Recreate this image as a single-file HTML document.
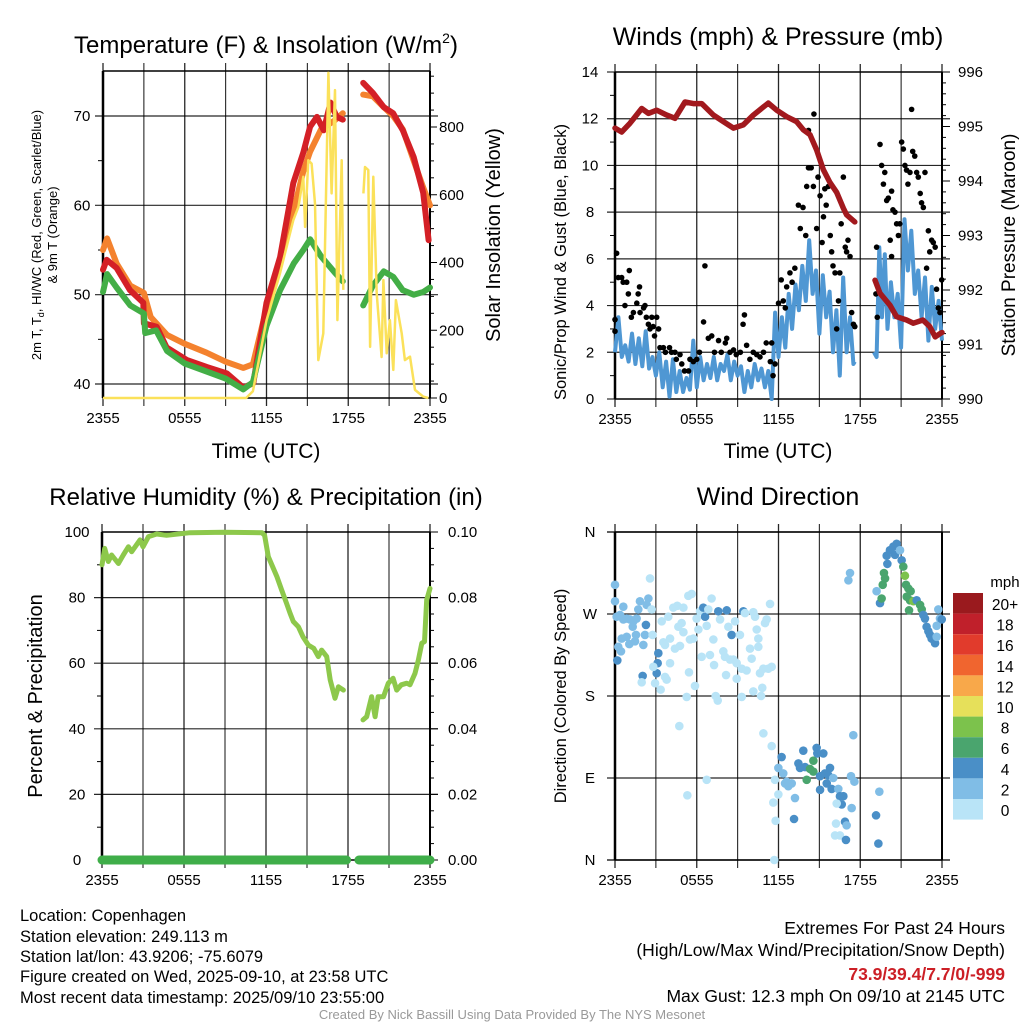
<!DOCTYPE html>
<html><head><meta charset="utf-8">
<style>
html,body{margin:0;padding:0;background:#fff;}
svg{display:block;font-family:"Liberation Sans",Arial,sans-serif;}
</style></head>
<body>
<svg id="c" width="1024" height="1024" viewBox="0 0 1024 1024" xmlns="http://www.w3.org/2000/svg">
<g id="static">
<text x="266" y="53" font-size="24" text-anchor="middle">Temperature (F) &amp; Insolation (W/m<tspan font-size="14" dy="-10">2</tspan><tspan dy="10">)</tspan></text>
<text x="778" y="45" font-size="25" text-anchor="middle">Winds (mph) &amp; Pressure (mb)</text>
<text x="266" y="505" font-size="24" text-anchor="middle">Relative Humidity (%) &amp; Precipitation (in)</text>
<text x="778" y="505" font-size="25" text-anchor="middle">Wind Direction</text>
<text x="266" y="458" font-size="21" text-anchor="middle">Time (UTC)</text>
<text x="778" y="458" font-size="21" text-anchor="middle">Time (UTC)</text>
<text transform="translate(41,235) rotate(-90)" font-size="13" text-anchor="middle">2m T, T<tspan font-size="9" dy="3">d</tspan><tspan dy="-3">, HI/WC (Red, Green, Scarlet/Blue)</tspan></text>
<text transform="translate(57,235) rotate(-90)" font-size="13" text-anchor="middle">&amp; 9m T (Orange)</text>
<text transform="translate(500,235) rotate(-90)" font-size="20" text-anchor="middle">Solar Insolation (Yellow)</text>
<text transform="translate(566,262) rotate(-90)" font-size="16.5" text-anchor="middle">Sonic/Prop Wind &amp; Gust (Blue, Black)</text>
<text transform="translate(1015,245) rotate(-90)" font-size="19" text-anchor="middle">Station Pressure (Maroon)</text>
<text transform="translate(42,696) rotate(-90)" font-size="20" text-anchor="middle">Percent &amp; Precipitation</text>
<text transform="translate(566,696) rotate(-90)" font-size="16.5" text-anchor="middle">Direction (Colored By Speed)</text>
<g font-size="16.5">
<text x="20" y="921">Location: Copenhagen</text>
<text x="20" y="942">Station elevation: 249.113 m</text>
<text x="20" y="962">Station lat/lon: 43.9206; -75.6079</text>
<text x="20" y="982">Figure created on Wed, 2025-09-10, at 23:58 UTC</text>
<text x="20" y="1003">Most recent data timestamp: 2025/09/10 23:55:00</text>
</g>
<g font-size="17.5" text-anchor="end">
<text x="1005" y="934">Extremes For Past 24 Hours</text>
<text x="1005" y="956">(High/Low/Max Wind/Precipitation/Snow Depth)</text>
<text x="1005" y="980" fill="#cc1f26" font-weight="bold">73.9/39.4/7.7/0/-999</text>
<text x="1005" y="1002">Max Gust: 12.3 mph On 09/10 at 2145 UTC</text>
</g>
<text x="512" y="1019" font-size="13" fill="#999" text-anchor="middle">Created By Nick Bassill Using Data Provided By The NYS Mesonet</text>
</g>
</svg>
<script>
// ---- Panel 1: temperature & insolation ----
const tRedH=[0,0.27,1.0,1.98,2.96,3.0,3.94,4.67,6.14,7.61,9.08,10.3,11.03,12.0,13.0,13.97,14.7,15.2,15.7,16.2,16.7,17.15,17.6,null,19.1,19.8,20.6,21.3,22.0,22.8,23.5,23.9];
const tRedV=[52.8,53.9,53.0,50.5,49.1,46.8,46.4,44.1,42.7,41.9,41.2,39.6,40.1,49.1,54.2,62.5,65.9,68.8,69.9,68.4,71.5,69.9,69.6,null,73.7,72.6,71.0,70.3,68.4,65.4,61.4,56.1];
const tOrH=[0,0.3,1.0,2.0,3.0,3.5,4.7,6.0,7.6,9.0,10.3,11.0,12.0,13.0,14.0,14.7,15.2,16.0,17.0,17.6,null,19.1,19.8,20.6,21.3,22.0,22.8,23.5,24.0];
const tOrV=[55.0,56.3,53.5,51.0,50.2,47.5,45.5,44.5,43.5,42.5,41.8,42.2,48.5,53.5,59.5,63.8,66.0,68.5,69.5,70.3,null,72.4,72.2,71.0,70.0,68.5,65.0,62.0,60.0];
const tGrH=[0,0.3,1.0,2.0,3.0,3.1,3.9,4.7,6.0,7.6,9.0,10.3,11.0,12.0,13.0,14.0,14.7,15.2,16.0,17.0,17.6,null,19.1,19.8,20.6,21.3,22.0,22.8,23.5,24.0];
const tGrV=[50.3,52.3,50.8,48.8,47.9,45.7,46.0,43.7,42.3,41.4,40.6,39.4,40.2,46.5,50.5,53.5,55.0,56.2,54.3,52.5,51.5,null,48.8,51.0,52.6,52.0,50.5,50.0,50.3,50.8];
const insH=[0,10.5,11.0,12.01,12.99,13.97,14.34,14.70,14.83,15.07,15.31,15.56,15.8,16.17,16.54,16.78,17.03,17.2,17.52,17.64,null,19.11,19.23,19.47,19.6,19.84,20.09,20.45,20.58,20.82,21.06,21.31,21.5,21.92,22.16,22.53,22.9,23.5,23.88];
const insV=[0,0,20,230,368,525,564,653,505,702,692,574,112,191,960,604,909,230,702,319,null,604,682,673,151,653,309,121,348,132,230,83,289,191,112,122,24,4,0];
const tempTicks=[40,50,60,70];
const insTicks=[0,200,400,600,800];
const timeLabels=["2355","0555","1155","1755","2355"];
// ---- Panel 2: winds & pressure ----
const presH=[0,0.49,1.1,1.96,2.45,3.06,3.8,4.4,5.14,5.75,6.36,7.22,7.95,8.69,9.42,10.15,10.9,11.25,11.87,12.6,13.33,13.82,14.31,14.8,15.29,15.78,16.27,16.76,17.0,17.6,null,19.08,19.45,20.18,20.67,21.4,21.9,22.6,23.1,23.5,23.85,24.0];
const presV=[994.97,994.9,995.06,995.33,995.24,995.3,995.21,995.15,995.45,995.42,995.42,995.21,995.09,994.97,995.03,995.21,995.36,995.43,995.3,995.18,995.09,994.94,994.85,994.57,994.21,993.97,993.79,993.5,993.38,993.25,null,992.18,991.94,991.72,991.51,991.45,991.39,991.45,991.33,991.14,991.2,991.22];
const windH=[0,0.25,0.5,0.75,1,1.25,1.5,1.75,2,2.25,2.5,2.75,3,3.25,3.5,3.75,4,4.25,4.5,4.75,5,5.25,5.5,5.75,6,6.25,6.5,6.75,7,7.25,7.5,7.75,8,8.25,8.5,8.75,9,9.25,9.5,9.75,10,10.25,10.5,10.75,11,11.25,11.5,11.75,12,12.25,12.5,12.75,13,13.25,13.5,13.75,14,14.25,14.5,14.75,15,15.25,15.5,15.75,16,16.25,16.5,16.75,17,17.25,17.5,17.6,null,19,19.2,19.4,19.6,19.8,20,20.25,20.5,20.75,21,21.25,21.5,21.75,22,22.25,22.5,22.75,23,23.25,23.5,23.75,24];
const windV=[2.0,3.5,1.8,2.3,1.6,2.8,1.5,2.6,1.4,2.9,1.3,1.8,1.0,2.0,0.5,1.6,0.1,1.7,0.3,1.2,0.3,0.9,0.4,2.5,0.5,1.8,0.8,1.5,0.9,1.8,0.8,1.5,1.2,1.9,0.8,1.6,1.0,1.4,0.3,1.2,0.5,1.5,0.8,1.3,0.5,1.2,0.0,3.7,1.8,3.5,2.2,4.5,3.0,4.9,3.8,5.7,4.2,6.8,4.5,5.5,2.8,5.3,3.5,4.6,2.0,3.8,1.0,5.2,2.0,3.5,1.5,1.6,null,2.0,1.8,6.5,3.5,6.2,3.0,5.0,3.5,4.5,2.2,7.7,5.5,7.2,4.5,5.5,3.5,5.2,2.5,4.8,3.0,4.2,2.5];
const gustH=[0.12,0,0,0.24,0.49,0.6,0.86,1.05,0.73,0.98,1.2,1.35,1.6,1.7,1.8,1.84,2.1,2.2,2.3,2.45,2.57,2.7,2.8,2.9,3.06,3.2,3.3,3.55,3.7,4.0,4.15,4.4,4.5,4.77,4.9,5.1,5.4,5.5,5.75,6.0,6.2,6.5,6.6,6.85,7.1,7.3,7.6,7.8,8.1,8.2,8.44,8.7,8.9,9.2,9.4,9.5,9.66,9.9,10.15,10.4,10.64,10.9,11.1,11.4,11.5,11.6,11.75,12.0,12.2,12.35,12.5,12.6,12.84,13.0,13.2,13.46,13.6,13.8,14.0,14.07,14.2,14.3,14.4,14.56,14.6,14.2,14.8,14.9,15.05,15.2,15.3,15.4,15.5,15.66,15.8,15.9,16.0,16.15,16.27,16.4,16.5,16.6,16.76,16.9,17.0,17.1,17.25,17.37,17.5,17.6,19.15,19.2,19.25,19.45,19.57,19.7,19.8,19.94,20.06,20.2,20.3,20.4,20.55,20.3,20.67,20.8,20.9,21.04,21.16,21.28,21.4,21.5,21.65,21.77,21.85,22.0,22.14,22.26,22.4,22.5,22.63,22.75,22.87,23.0,23.1,23.24,23.36,23.5,23.6,23.73,23.85,23.98];
const gustV=[6.24,2.9,3.4,5.2,5.2,5.0,5.0,5.5,4.0,4.5,3.5,3.7,4.1,4.5,4.8,3.7,3.9,4.0,3.5,3.2,3.0,3.5,3.1,2.7,3.5,3.0,2.2,2.2,2.0,2.2,2.0,2.0,1.7,1.9,1.5,1.2,1.2,1.7,1.6,1.7,2.0,3.3,5.7,2.6,2.7,2.0,2.5,2.0,2.4,2.6,2.0,2.1,1.9,2.0,3.2,3.6,2.3,1.7,2.0,1.9,1.8,2.0,2.4,1.6,2.4,1.0,1.5,4.1,5.1,4.2,3.9,4.8,5.4,5.0,5.6,8.3,7.3,8.2,7.0,9.1,9.9,9.9,9.9,9.1,12.2,11.5,7.3,9.5,8.7,6.7,7.8,9.0,8.3,9.1,7.0,6.3,5.7,5.4,3.0,4.2,5.4,7.5,9.5,6.5,6.3,6.8,6.1,3.7,3.2,3.1,4.5,6.5,3.5,10.9,10.0,9.2,9.7,8.5,8.6,6.8,8.9,8.1,8.0,6.1,7.5,7.0,7.5,11.0,10.7,10.0,9.8,9.2,9.7,12.4,10.6,10.4,9.7,9.5,8.8,8.4,8.2,9.7,5.6,7.2,6.3,6.8,6.7,6.5,4.7,3.9,3.7,5.1];
const windTicks=[0,2,4,6,8,10,12,14];
const presTicks=[990,991,992,993,994,995,996];
// ---- Panel 3: RH & precipitation ----
const rhH=[0,0.2,0.46,0.7,1.2,1.56,1.93,2.17,2.78,3.0,3.4,4.0,4.73,6.44,8.9,11.7,11.9,12.17,12.8,13.15,13.5,13.76,14.0,14.37,14.7,15.1,15.5,15.83,16.07,16.44,16.7,17.05,17.3,17.66,null,19.1,19.37,19.73,19.98,20.2,20.6,20.95,21.3,21.56,21.9,22.3,22.54,22.9,23.15,23.4,23.6,23.76,24.0];
const rhV=[90,95,91,93,90.4,93,95.5,94,97.6,95.5,98.6,99.4,99,99.8,99.9,99.8,99,92.5,86.4,82.3,78.3,75.2,72.7,71.1,68.1,65.5,64.5,62.0,64.0,62.0,54.9,49.3,52.8,51.8,null,42.7,43.7,49.8,43.7,49.8,49.8,53.9,55.4,51.8,53.4,53.9,53.4,56.9,61.0,66.1,66.6,79.3,82.8];
const precipH=[0,17.9,null,18.8,24];
const precipV=[0,0,null,0,0];
const rhTicks=[0,20,40,60,80,100];
const precipTicks=["0.00","0.02","0.04","0.06","0.08","0.10"];
// ---- Panel 4: wind direction ----
const dirH=[0,0,0.61,0.12,0.37,0.61,0.86,1.1,1.35,1.59,1.71,1.83,2.45,2.32,1.3,0.49,0.86,1.05,1.54,1.47,2.08,2.2,2.27,0.24,0.44,0.17,2.03,1.96,2.69,2.57,2.76,3.18,3.06,3.13,3.43,3.91,4.28,4.57,5.02,5.38,5.63,5.99,6.24,6.48,6.61,6.85,7.09,7.58,7.71,8.2,8.32,8.56,8.81,9.42,9.54,10.15,10.28,10.4,10.52,11.01,11.13,11.38,3.55,4.04,4.4,4.77,5.02,5.5,5.75,6.12,6.36,6.73,6.97,7.27,7.22,7.95,8.07,8.44,8.69,8.93,9.17,9.3,9.66,9.91,10.03,10.52,10.64,10.89,11.25,11.5,2.81,2.94,3.35,3.67,3.79,4.04,4.72,5.26,5.43,5.87,7.39,7.54,8.15,8.93,9.3,10.15,10.72,10.81,6.73,5.31,10.89,11.5,3.67,4.65,4.89,11.74,11.99,11.62,11.79,11.69,11.99,12.35,12.6,12.72,12.97,12.23,12.48,13.21,13.14,13.46,13.58,13.82,13.95,14.07,14.31,14.56,14.56,14.8,14.85,15.05,15.29,15.41,15.54,15.66,15.78,16.02,15.05,15.9,16.39,16.51,16.76,16.64,16.27,17.37,16.88,17.0,16.22,16.15,16.51,16.95,17.32,17.57,17.49,17.13,17.25,19.16,19.33,19.4,19.2,19.45,19.57,19.65,19.74,19.82,19.94,19.99,20.18,20.43,20.67,20.55,20.92,21.04,21.16,21.28,21.36,21.53,21.7,21.65,21.41,21.9,22.14,22.39,22.51,21.58,22.63,22.75,22.87,23.0,23.12,23.24,23.36,23.49,23.61,23.73,23.85,23.98,23.61];
const dirDeg=[302,284,278,267,269,264,265,264,262,265,275,284,287,280,256,243,245,237,247,240,236,247,258,234,229,219,202,195,275,309,247,227,205,216,262,267,277,279,277,290,292,265,273,277,267,275,287,273,264,274,256,247,262,273,271,272,267,253,243,260,264,281,239,243,232,235,250,242,243,253,223,257,225,214,242,229,223,220,220,216,247,210,208,232,221,234,205,210,210,212,212,194,187,201,198,216,147,179,206,191,180,175,203,199,179,185,180,189,88,71,139,125,236,256,260,88,72,63,43,0,101,95,86,81,84,113,84,68,45,106,101,120,102,88,100,109,97,123,117,92,117,95,84,93,101,90,77,78,78,70,70,61,62,57,42,38,40,27,27,22,92,86,137,307,315,49,18,75,295,282,287,302,315,309,334,325,340,344,347,335,340,329,322,312,302,298,295,285,289,284,285,280,275,274,269,265,256,251,247,243,242,238,245,275,265,264,257];
const dirSpd=[3,3,3,3,3,3,3,3,3,3,3,3,3,3,3,3,3,3,3,3,3,3,5,3,3,5,5,1,1,1,1,5,5,5,1,1,1,1,1,1,1,1,1,5,5,1,1,5,1,5,1,5,1,5,1,1,1,1,1,1,1,1,1,1,1,1,1,1,1,1,1,1,1,1,1,1,1,1,1,1,1,1,1,1,1,1,1,1,1,1,1,1,1,1,1,1,1,1,1,1,1,1,1,1,1,1,1,1,1,1,1,1,1,1,1,1,1,1,1,1,3,3,3,3,3,5,3,3,5,5,5,5,5,7,7,7,7,5,5,5,5,5,5,5,5,3,5,5,3,5,5,5,1,3,5,3,1,1,1,5,3,3,3,3,3,5,5,3,3,5,7,7,7,7,5,5,5,5,5,5,3,5,7,9,7,7,7,7,7,9,5,7,7,7,5,5,5,5,5,5,5,5,3,3,3,5,3];
const dirTicks=["N","E","S","W","N"];
const legendLabels=["20+","18","16","14","12","10","8","6","4","2","0"];
const legendColors=["#9a1a1e","#c0202b","#e13b2c","#f0652f","#f8a84a","#e6e05a","#7cc24c","#4aa56e","#4a8fc7","#80bde6","#b9e4f7"];

const NS="http://www.w3.org/2000/svg";
const svg=document.getElementById('c');
function mk(tag,attrs,parent){const e=document.createElementNS(NS,tag);for(const k in attrs)e.setAttribute(k,attrs[k]);(parent||svg).appendChild(e);return e;}
function txt(x,y,s,size,anchor,parent){const t=mk('text',{x:x,y:y,'font-size':size,'text-anchor':anchor||'middle'},parent);t.textContent=s;return t;}
function lin(d0,d1,r0,r1){return v=>r0+(v-d0)*(r1-r0)/(d1-d0);}
function pathFrom(H,V,xs,ys){let d='',pen=false;for(let i=0;i<H.length;i++){if(H[i]===null||V[i]===null){pen=false;continue;}d+=(pen?'L':'M')+xs(H[i]).toFixed(1)+' '+ys(V[i]).toFixed(1);pen=true;}return d;}

function frame(L,R,T,B,name){
  const g=mk('g',{});
  
  
  const xs=lin(0,24,L,R);
  for(let h=0;h<=24;h+=3){const x=xs(h);mk('line',{x1:x,y1:T-8,x2:x,y2:B+8,stroke:'#000','stroke-width':(h%6===0)?1.3:1.1,'stroke-opacity':0.85},g);}
  timeLabels.forEach((s,i)=>{const t=txt(xs(i*6),B+25,s,15,'middle',g);});
  return {g,xs};
}
function hgrid(g,L,R,y){mk('line',{x1:L-8,y1:y,x2:R+8,y2:y,stroke:'#000','stroke-width':1.2,'stroke-opacity':0.85},g);}
function border(g,L,R,T,B){mk('line',{x1:L,y1:T,x2:L,y2:B,stroke:'#000','stroke-width':2.5},g);mk('line',{x1:R,y1:T,x2:R,y2:B,stroke:'#000','stroke-width':2},g);mk('line',{x1:L,y1:T,x2:R,y2:T,stroke:'#000','stroke-width':1.5},g);mk('line',{x1:L,y1:B,x2:R,y2:B,stroke:'#000','stroke-width':1.5},g);}

// Panel 1
(function(){
  const L=103,R=430,T=71,B=398;
  const {g,xs}=frame(L,R,T,B,'temperature');
  const ty=lin(40,70,384,116), iy=lin(0,800,398,127);
  tempTicks.forEach(v=>{hgrid(g,L,R,ty(v));const t=txt(L-21,ty(v)+5,String(v),15,'middle',g);});
  for(let v=45;v<75;v+=10)mk('line',{x1:L-5,y1:ty(v),x2:L,y2:ty(v),stroke:'#000'},g);
  insTicks.forEach(v=>{const t=txt(R+9,iy(v)+5,String(v),15,'start',g);});
  for(let v=0;v<=950;v+=50)mk('line',{x1:R,y1:iy(v),x2:R+(v%200===0?7:4),y2:iy(v),stroke:'#000'},g);
  const po=mk('path',{d:pathFrom(tOrH,tOrV,xs,ty),fill:'none',stroke:'#f4822e','stroke-width':6,'stroke-linejoin':'round','stroke-linecap':'round'});
  
  const pr=mk('path',{d:pathFrom(tRedH,tRedV,xs,ty),fill:'none',stroke:'#d42026','stroke-width':6,'stroke-linejoin':'round','stroke-linecap':'round'});
  
  const pg=mk('path',{d:pathFrom(tGrH,tGrV,xs,ty),fill:'none',stroke:'#43ae46','stroke-width':6,'stroke-linejoin':'round','stroke-linecap':'round'});
  
  const py=mk('path',{d:pathFrom(insH,insV,xs,iy),fill:'none',stroke:'#fbe15a','stroke-width':2.5,'stroke-linejoin':'round'});
  
  border(g,L,R,T,B);
})();

// Panel 2
(function(){
  const L=615,R=942,T=72,B=399;
  const {g,xs}=frame(L,R,T,B,'winds');
  const wy=lin(0,14,B,T), py=lin(990,996,B,T);
  windTicks.forEach(v=>{if(v>0&&v<14)hgrid(g,L,R,wy(v));else mk('line',{x1:L-8,y1:wy(v),x2:L,y2:wy(v),stroke:'#000'},g);const t=txt(L-25,wy(v)+5,String(v),15,'middle',g);});
  for(let v=1;v<14;v+=2)mk('line',{x1:L-5,y1:wy(v),x2:L,y2:wy(v),stroke:'#000'},g);
  presTicks.forEach(v=>{const t=txt(R+16,py(v)+5,String(v),15,'start',g);});
  for(let v=990;v<=996.01;v+=0.2)mk('line',{x1:R,y1:py(v),x2:R+(Math.abs(v-Math.round(v))<0.01?8:4),y2:py(v),stroke:'#000'},g);
  const pb=mk('path',{d:pathFrom(windH,windV,xs,wy),fill:'none',stroke:'#4f97d3','stroke-width':4,'stroke-linejoin':'round'});
  
  for(let i=0;i<gustH.length;i++){const c=mk('circle',{cx:xs(gustH[i]),cy:wy(gustV[i]),r:2.8,fill:'#000'});
    
    }
  const pp=mk('path',{d:pathFrom(presH,presV,xs,py),fill:'none',stroke:'#a2191e','stroke-width':5.5,'stroke-linejoin':'round','stroke-linecap':'round'});
  
  border(g,L,R,T,B);
})();

// Panel 3
(function(){
  const L=102,R=430,T=532,B=860;
  const {g,xs}=frame(L,R,T,B,'humidity');
  const ry=lin(0,100,B,T);
  rhTicks.forEach((v,i)=>{if(v>0&&v<100)hgrid(g,L,R,ry(v));const t=txt(L-25,ry(v)+5,String(v),15,'middle',g);
    const t2=txt(R+18,ry(v)+5,precipTicks[i],15,'start',g);});
  for(let v=0;v<=100;v+=5)mk('line',{x1:R,y1:ry(v),x2:R+(v%20===0?8:4),y2:ry(v),stroke:'#000'},g);
  for(let v=10;v<100;v+=20)mk('line',{x1:L-5,y1:ry(v),x2:L,y2:ry(v),stroke:'#000'},g);
  border(g,L,R,T,B);
  const pr=mk('path',{d:pathFrom(rhH,rhV,xs,ry),fill:'none',stroke:'#8dc84b','stroke-width':5,'stroke-linejoin':'round','stroke-linecap':'round'});
  
  const pp=mk('path',{d:pathFrom(precipH,precipV,xs,ry),fill:'none',stroke:'#3fae49','stroke-width':9,'stroke-linecap':'round'});
  
})();

// Panel 4
(function(){
  const L=615,R=942,T=532,B=860;
  const {g,xs}=frame(L,R,T,B,'direction');
  const dy=lin(0,360,B,T);
  dirTicks.forEach((s,i)=>{const v=i*90;if(i>0&&i<4)hgrid(g,L,R,dy(v));else mk('line',{x1:L-8,y1:dy(v),x2:R+8,y2:dy(v),stroke:'#000','stroke-width':1.2},g);const t=txt(L-25,dy(v)+5,s,15,'middle',g);});
  border(g,L,R,T,B);
  for(let i=0;i<dirH.length;i++){const k=Math.min(10,Math.floor(dirSpd[i]/2));const col=legendColors[10-k];
    const c=mk('circle',{cx:xs(dirH[i]),cy:dy(dirDeg[i]),r:4.3,fill:col});
    
    }
  const lg=mk('g',{});
  
  
  txt(1005,587,'mph',15,'middle',lg);
  legendLabels.forEach((s,i)=>{mk('rect',{x:953,y:593+i*20.6,width:30,height:20.6,fill:legendColors[i]},lg);txt(1005,610+i*20.6,s,15.5,'middle',lg);});
})();
</script>
</body></html>
